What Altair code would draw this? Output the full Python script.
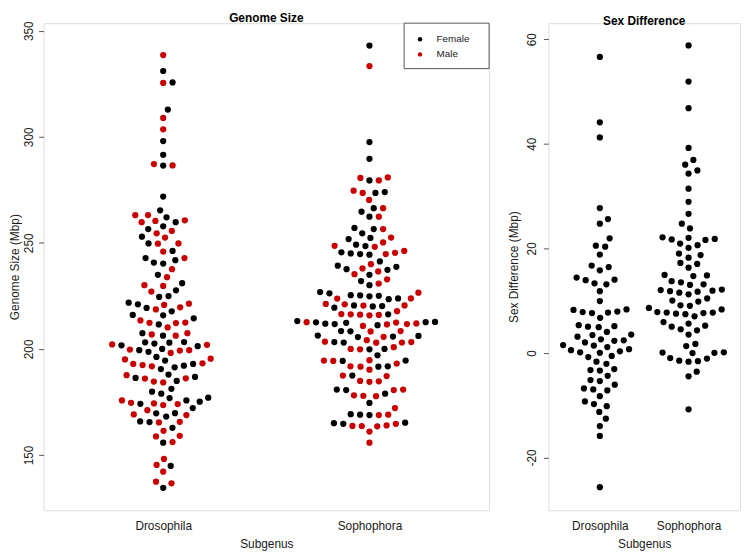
import json
import numpy as np
import pandas as pd
import altair as alt

# ---------------- data ----------------
subgenera = ["Drosophila", "Sophophora"]
sexes = ["Female", "Male"]
sex_colors = ["#000000", "#C80000"]
gs_ticks = [150, 200, 250, 300, 350]
sd_ticks = [-20, 0, 20, 40, 60]

dros_female = [331.0, 325.6, 312.8, 298.0, 291.5, 286.4, 271.8, 265.3, 262.0, 259.7,
               257.8, 256.5, 252.9, 249.7, 246.2, 242.8, 240.7, 240.2, 241.8, 234.9,
               231.0, 227.6, 224.9, 224.5, 221.8, 221.0, 219.3, 217.7, 216.0, 215.8,
               214.4, 211.5, 207.4, 206.2, 203.2, 202.9, 201.7, 201.3, 202.5, 203.1,
               198.6, 199.4, 200.0, 194.5, 196.2, 191.3, 190.5, 192.1, 192.9, 184.9,
               186.8, 186.3, 187.9, 181.2, 179.8, 178.9, 176.8, 174.1, 175.1, 177.0,
               175.7, 172.1, 169.7, 168.1, 169.6, 165.8, 165.5, 162.8, 155.8, 144.8,
               134.5]
dros_male = [338.5, 325.4, 308.9, 303.5, 287.1, 286.5, 263.1, 263.0, 260.6, 259.7,
             260.3, 255.6, 254.5, 252.5, 249.7, 249.6, 245.9, 242.8, 237.6, 233.8,
             229.7, 230.0, 227.0, 221.3, 220.7, 219.6, 218.6, 213.4, 212.3, 212.2,
             212.4, 210.1, 206.8, 206.2, 207.4, 202.1, 201.9, 199.7, 199.2, 198.1,
             199.4, 195.4, 195.0, 192.9, 192.4, 191.8, 193.2, 186.1, 186.0, 187.6,
             184.2, 184.6, 175.7, 174.0, 173.5, 174.3, 174.6, 171.1, 168.8, 169.1,
             165.6, 165.3, 161.4, 159.0, 158.7, 156.1, 148.1, 145.3, 142.1, 137.4,
             136.6]
soph_female = [343.0, 297.5, 289.6, 279.4, 273.9, 273.5, 266.3, 264.7, 262.3, 256.5,
               257.0, 254.5, 252.3, 251.8, 248.5, 249.1, 244.7, 244.4, 245.0, 245.5,
               241.2, 238.7, 237.3, 239.2, 237.6, 234.9, 232.0, 230.0, 226.2, 226.8,
               225.2, 225.0, 224.8, 225.3, 223.4, 223.8, 220.5, 220.0, 219.4, 220.2,
               216.3, 212.6, 212.5, 212.7, 211.7, 211.2, 211.9, 212.3, 213.1, 208.4,
               208.3, 206.3, 205.8, 206.1, 205.6, 203.2, 203.0, 200.0, 199.8, 194.5,
               194.3, 197.0, 191.8, 191.6, 187.4, 180.8, 180.6, 178.9, 174.5, 169.0,
               169.2, 168.8, 164.7, 165.0, 165.2]
soph_male = [333.3, 280.8, 280.6, 279.4, 273.5, 274.6, 270.2, 266.3, 262.3, 256.5,
             252.5, 250.2, 248.1, 248.6, 246.2, 245.3, 244.7, 239.9, 237.9, 236.5,
             235.2, 232.8, 230.8, 226.5, 223.7, 223.8, 221.0, 220.5, 221.2, 220.4,
             217.8, 216.0, 216.3, 216.1, 216.4, 215.8, 212.6, 212.4, 211.7, 211.5,
             212.0, 210.8, 208.4, 208.2, 205.7, 204.1, 202.9, 200.8, 203.2, 203.0,
             203.4, 200.0, 199.8, 194.5, 194.3, 194.7, 193.1, 191.8, 191.6, 190.2,
             187.4, 187.2, 184.7, 184.5, 184.9, 180.8, 180.6, 177.9, 177.7, 178.1,
             172.1, 169.0, 168.8, 164.7, 163.7, 163.5, 163.9, 163.6, 161.0, 155.8]
dros_diff = [56.6, 44.1, 41.2, 27.7, 25.6, 24.7, 21.9, 20.5, 20.3, 18.8,
             16.7, 16.4, 15.8, 14.4, 14.0, 13.9, 13.3, 13.1, 11.8, 9.9,
             8.2, 7.9, 7.7, 8.3, 7.6, 7.8, 6.7, 5.1, 5.0, 4.9,
             5.3, 4.0, 3.5, 2.4, 2.6, 2.3, 3.1, 2.0, 3.4, 1.5,
             1.1, 0.7, 1.4, 0.5, 0.0, -0.8, 0.1, -0.6, 0.3, -1.7,
             -2.1, -3.1, -3.3, -3.4, -4.4, -5.2, -5.4, -6.1, -6.8, -7.0,
             -7.2, -8.3, -9.3, -9.8, -10.2, -11.3, -12.6, -14.0, -15.9, -25.7]
soph_diff = [58.8, 51.9, 46.8, 39.2, 36.9, 36.0, 34.9, 34.3, 31.4, 28.9,
             26.6, 24.7, 23.8, 22.1, 21.7, 21.6, 21.8, 22.0, 20.9, 20.6,
             20.1, 19.0, 18.7, 18.2, 17.2, 17.0, 16.3, 14.8, 14.7, 14.9,
             13.7, 13.5, 13.0, 13.1, 12.1, 11.8, 11.7, 11.5, 11.9, 12.0,
             11.2, 10.4, 10.0, 9.8, 9.0, 9.1, 8.6, 7.7, 7.6, 7.5,
             7.0, 7.4, 7.8, 7.7, 8.3, 5.9, 5.2, 4.5, 5.6, 4.3,
             5.0, 3.5, 1.7, 1.3, -1.0, 0.05, 0.0, 0.1, -0.05, -1.6,
             -1.7, -1.5, -1.1, -3.6, -4.5, -10.8]

# ---------------- layout constants ----------------
FONT = "Liberation Sans"
LEFT_W, RIGHT_W, PLOT_H = 451, 194, 493
X_DOMAIN = [0.42, 2.58]
GS_DOMAIN = [123.96, 353.55]
SD_DOMAIN = [-30.1, 63.07]
SPACING_PX = 9.5


def swarm(values, px_per_unit, d):
    """beeswarm 'swarm' placement (ascending priority), in pixel units."""
    ys = np.asarray(values, float) * px_per_unit
    order = np.argsort(ys, kind="stable")
    xs = np.zeros(len(ys))
    placed = []
    for i in order:
        y = ys[i]
        near = [(px, py) for px, py in placed if abs(py - y) < d]
        offs = [np.sqrt(max(d * d - (py - y) ** 2, 0.0)) for px, py in near]
        cands = [0.0] + [p[0] + o for p, o in zip(near, offs)] + [p[0] - o for p, o in zip(near, offs)]
        ok = [c for c in cands
              if all((c - px) ** 2 + (y - py) ** 2 >= d * d - 1e-6 for px, py in near)]
        best = ok[int(np.argmin(np.abs(ok)))]
        xs[i] = best
        placed.append((best, y))
    return xs


x_span = X_DOMAIN[1] - X_DOMAIN[0]
gs_ppu = 486 / (GS_DOMAIN[1] - GS_DOMAIN[0])
sd_ppu = 486 / (SD_DOMAIN[1] - SD_DOMAIN[0])

rows = []
for gi, (fem, mal) in enumerate([(dros_female, dros_male), (soph_female, soph_male)]):
    vals = list(fem) + list(mal)
    sx = [sexes[0]] * len(fem) + [sexes[1]] * len(mal)
    off = swarm(vals, gs_ppu, SPACING_PX)
    for v, s, o in zip(vals, sx, off):
        rows.append({"subgenus": subgenera[gi], "sex": s, "size": v,
                     "xpos": gi + 1 + o * x_span / LEFT_W})
left_df = pd.DataFrame(rows)

rows = []
for gi, vals in enumerate([dros_diff, soph_diff]):
    off = swarm(vals, sd_ppu, SPACING_PX)
    for v, o in zip(vals, off):
        rows.append({"subgenus": subgenera[gi], "diff": v,
                     "xpos": gi + 1 + o * x_span / RIGHT_W})
right_df = pd.DataFrame(rows)

label_expr = json.dumps(subgenera) + "[datum.value - 1]"
TXT = "#1a1a1a"
FRAME = "#555555"

common_axis = dict(grid=False, domain=False, labelFont=FONT, titleFont=FONT,
                   labelFontSize=12, titleFontSize=12, titleFontWeight="normal",
                   labelColor=TXT, titleColor=TXT, tickColor=FRAME,
                   labelFlush=False, labelOverlap=False)


def x_axis():
    return alt.Axis(values=[1, 2], labelExpr=label_expr, ticks=False, tickSize=0,
                    labelPadding=11, titlePadding=7, title="Subgenus",
                    labelBaseline="top", **common_axis)


def y_axis(vals, title, lpad, tpad):
    return alt.Axis(values=vals, title=title, labelAngle=270, labelAlign="center",
                    labelBaseline="bottom", tickSize=5, labelPadding=lpad,
                    titlePadding=tpad, labelExpr="'' + datum.value", **common_axis)


def panel_title(t):
    return alt.TitleParams(t, font=FONT, fontSize=12, fontWeight="bold", color="#000000",
                           offset=-4.5, frame="group", anchor="middle")


x_enc = alt.X("xpos:Q", scale=alt.Scale(domain=X_DOMAIN, nice=False, zero=False), axis=x_axis())

# legend frame (top-right corner of the left panel)
legend_box = alt.Chart(pd.DataFrame({"k": [0]})).mark_rect(
    fill="white", stroke=FRAME, strokeWidth=1
).encode(x=alt.value(365), x2=alt.value(LEFT_W), y=alt.value(0), y2=alt.value(46))

left_points = alt.Chart(left_df).mark_circle(size=40, opacity=1).encode(
    x=x_enc,
    y=alt.Y("size:Q", scale=alt.Scale(domain=GS_DOMAIN, nice=False, zero=False),
            axis=y_axis(gs_ticks, "Genome Size (Mbp)", 3, 1)),
    color=alt.Color("sex:N", scale=alt.Scale(domain=sexes, range=sex_colors),
                    legend=alt.Legend(title=None, orient="none", legendX=376.1, legendY=11.3,
                                      direction="vertical", padding=0, rowPadding=5.3,
                                      labelOffset=11.7, symbolType="circle", symbolSize=20,
                                      labelFont=FONT, labelFontSize=10, labelColor=TXT)),
)

left = alt.layer(legend_box, left_points).properties(
    width=LEFT_W, height=PLOT_H, title=panel_title("Genome Size"))

right = alt.Chart(right_df).mark_circle(size=40, opacity=1, color="#000000").encode(
    x=x_enc,
    y=alt.Y("diff:Q", scale=alt.Scale(domain=SD_DOMAIN, nice=False, zero=False),
            axis=y_axis(sd_ticks, "Sex Difference (Mbp)", 5, 5)),
).properties(width=RIGHT_W, height=PLOT_H, title=panel_title("Sex Difference"))

chart = alt.hconcat(left, right, spacing=60, bounds="flush").properties(
    padding={"left": 0, "top": 0, "right": 0, "bottom": 0}
).configure_view(stroke=FRAME, strokeWidth=1.5).configure(font=FONT)

chart.save("out.html", embed_options={"renderer": "svg", "actions": False})
